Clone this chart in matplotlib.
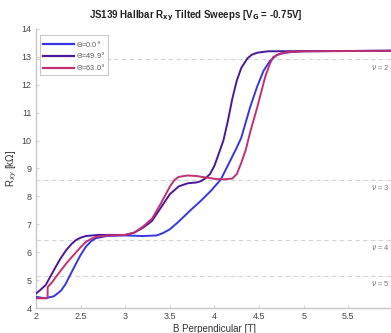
import numpy as np
import matplotlib
matplotlib.use("Agg")
from matplotlib import pyplot as plt

plt.rcParams['font.family'] = ['Liberation Sans', 'DejaVu Sans']

####################################
#   data
####################################
b_0 = [2.0, 2.1, 2.2, 2.28, 2.33, 2.37, 2.45, 2.5, 2.56, 2.62, 2.67, 2.79, 3.0,
       3.2, 3.35, 3.42, 3.5, 3.6, 3.73, 3.85, 3.96, 4.07, 4.18, 4.25, 4.3, 4.4,
       4.48, 4.55, 4.62, 4.7, 4.78, 4.85, 5.0, 6.0]
r_0 = [4.4, 4.35, 4.42, 4.62, 4.85, 5.1, 5.6, 5.9, 6.2, 6.4, 6.5, 6.58, 6.6,
       6.58, 6.6, 6.68, 6.82, 7.1, 7.5, 7.85, 8.2, 8.6, 9.3, 9.75, 10.1, 11.2,
       11.95, 12.5, 12.85, 13.07, 13.14, 13.17, 13.2, 13.22]

b_49 = [2.0, 2.05, 2.11, 2.16, 2.22, 2.28, 2.34, 2.4, 2.45, 2.5, 2.56, 2.7, 3.0,
        3.1, 3.2, 3.3, 3.4, 3.5, 3.6, 3.7, 3.8, 3.85, 3.9, 3.95, 4.0, 4.05, 4.1,
        4.15, 4.2, 4.25, 4.3, 4.37, 4.42, 4.48, 4.6, 6.0]
r_49 = [4.52, 4.65, 4.83, 5.12, 5.47, 5.8, 6.08, 6.3, 6.44, 6.52, 6.58, 6.62,
        6.62, 6.7, 6.88, 7.12, 7.6, 8.08, 8.36, 8.47, 8.5, 8.55, 8.65, 8.8, 9.1,
        9.55, 10.0, 10.7, 11.5, 12.15, 12.6, 12.95, 13.08, 13.15, 13.2, 13.22]

b_63 = [2.0, 2.13, 2.131, 2.18, 2.22, 2.28, 2.34, 2.4, 2.45, 2.5, 2.56, 2.62,
        2.67, 2.8, 3.0, 3.1, 3.2, 3.3, 3.4, 3.5, 3.55, 3.6, 3.7, 3.8, 3.9, 4.0,
        4.1, 4.2, 4.25, 4.3, 4.35, 4.4, 4.48, 4.57, 4.62, 4.66, 4.74, 4.82, 5.0,
        6.0]
r_63 = [4.35, 4.35, 4.75, 4.92, 5.1, 5.35, 5.6, 5.82, 6.0, 6.18, 6.37, 6.48,
        6.55, 6.6, 6.62, 6.7, 6.92, 7.2, 7.75, 8.35, 8.58, 8.7, 8.75, 8.73, 8.68,
        8.63, 8.61, 8.64, 8.8, 9.2, 9.66, 10.3, 11.2, 12.3, 12.75, 13.0, 13.12,
        13.17, 13.2, 13.22]

nu_levels = [2, 3, 4, 5]
nu_r = [12.906, 8.604, 6.453, 5.163]

x_ticks = [2, 2.5, 3, 3.5, 4, 4.5, 5, 5.5, 6]
x_labels = ['2', '2.5', '3', '3.5', '4', '4.5', '5', '5.5', '6']
y_ticks = list(range(4, 15))

theta_labels = [r'$\Theta$=0.0$\degree$', r'$\Theta$=49.9$\degree$', r'$\Theta$=63.0$\degree$']
colors = ['#3636e6', '#4a189c', '#c33070']


def main():
    fig = plt.figure(figsize=(3.91, 3.33), dpi=100)
    ax = fig.add_axes([0.092, 0.075, 1.005 - 0.092, 0.838])

    # quantised levels
    for nu, r in zip(nu_levels, nu_r):
        ax.axhline(r, color='#d4d4d4', lw=0.8, ls=(0, (4, 3)), zorder=1)
        ax.text(5.75, r - 0.12, r'$\nu$ = %d' % nu, color='#777777', fontsize=5.5,
                ha='left', va='top')

    for b, r, c, lab in zip([b_0, b_49, b_63], [r_0, r_49, r_63], colors, theta_labels):
        ax.plot(b, r, color=c, lw=1.4, label=lab, zorder=3, solid_joinstyle='round')

    ax.set_xlim(2, 6)
    ax.set_ylim(4, 14)
    ax.set_xticks(x_ticks)
    ax.set_xticklabels(x_labels)
    ax.set_yticks(y_ticks)

    for s in ['top', 'right']:
        ax.spines[s].set_visible(False)
    for s in ['left', 'bottom']:
        ax.spines[s].set_color('#c8c8c8')
        ax.spines[s].set_linewidth(1.0)
    ax.tick_params(direction='in', length=2.5, width=0.6, colors='#c8c8c8',
                   labelcolor='#444444', labelsize=6.5, pad=3)

    ax.set_xlabel('B Perpendicular [T]', fontsize=7, color='#333333', labelpad=2)
    ax.set_ylabel(r'R$_{xy}$ [k$\Omega$]', fontsize=7, color='#333333', labelpad=2)
    fig.text(0.5, 0.953, r'JS139 Hallbar R$_{\mathbf{xy}}$ Tilted Sweeps [V$_{\mathbf{G}}$ = -0.75V]',
             ha='center', va='center', fontsize=7, fontweight='bold', color='#222222')

    leg = ax.legend(loc='upper left', bbox_to_anchor=(0.0, 0.99), fontsize=5.2,
                    frameon=True, fancybox=False, handlelength=4.3, handletextpad=0.3,
                    borderpad=0.45, labelspacing=0.25, labelcolor='#555555')
    leg.get_frame().set_edgecolor('#bbbbbb')
    leg.get_frame().set_linewidth(0.8)
    for line in leg.get_lines():
        line.set_linewidth(1.6)

    fig.savefig('out.png', dpi=100)


if __name__ == "__main__":
    main()
